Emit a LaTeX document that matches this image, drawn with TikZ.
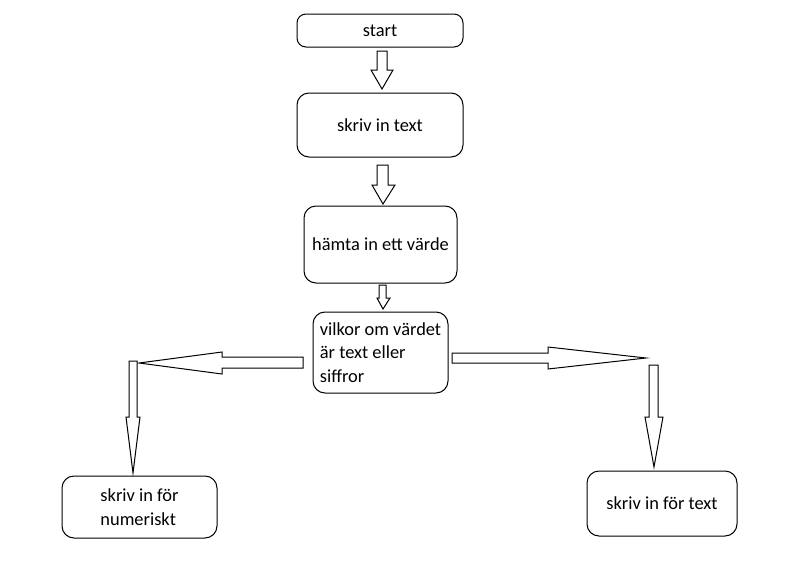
\documentclass[tikz,border=0pt]{standalone}
\usepackage{fontspec}
\setmainfont{Carlito}
\usepackage{tikz}
\usetikzlibrary{positioning}

\begin{document}
\begin{tikzpicture}[x=1pt, y=-1pt, line width=1pt,
        box/.style={draw, rounded corners=12pt, font=\fontsize{18.4}{23.5}\selectfont},
        blockarrow/.style={draw, fill=white, line join=miter}]
        \useasboundingbox (0, 0) rectangle (788, 568);

        \node[box, rounded corners=9pt, minimum width=166, minimum height=33] (start) at (380, 30.5) {start};
        \node[box, minimum width=166, minimum height=64] (skriv) at (380, 125) {skriv in text};
        \node[box, minimum width=153, minimum height=77] (hamta) at (380.5, 244.5) {hämta in ett värde};
        \node[box, minimum width=135, minimum height=81, align=left] (vilkor) at (380.5, 352.5) {vilkor om värdet\\är text eller\\siffror};
        \node[box, minimum width=155, minimum height=62, align=left] (numeriskt) at (139.5, 507) {skriv in för\\numeriskt};
        \node[box, minimum width=150, minimum height=65] (text) at (662, 503.5) {skriv in för text};

        % down arrows
        \draw[blockarrow] (377, 51) -- (387, 51) -- (387, 70) -- (393, 70) -- (382, 89)
            -- (371, 70) -- (377, 70) -- cycle;
        \draw[blockarrow] (377, 165) -- (388, 165) -- (388, 185) -- (395, 185) -- (383, 204)
            -- (372, 185) -- (377, 185) -- cycle;
        \draw[blockarrow] (379, 285) -- (386, 285) -- (386, 298) -- (390, 298) -- (383, 309)
            -- (377, 298) -- (379, 298) -- cycle;

        % branch to the left
        \draw[blockarrow] (303, 357) -- (303, 368) -- (222, 368) -- (222, 374) -- (139, 363)
            -- (222, 352) -- (222, 357) -- cycle;
        \draw[blockarrow] (129, 361) -- (137, 361) -- (137, 417) -- (140, 417) -- (133, 473)
            -- (126, 417) -- (129, 417) -- cycle;

        % branch to the right
        \draw[blockarrow] (452, 353) -- (452, 363) -- (548, 363) -- (548, 369) -- (646, 358)
            -- (548, 347) -- (548, 353) -- cycle;
        \draw[blockarrow] (649, 365) -- (658, 365) -- (658, 417) -- (663, 417) -- (654, 467)
            -- (645, 417) -- (649, 417) -- cycle;
    \end{tikzpicture}
\end{document}
